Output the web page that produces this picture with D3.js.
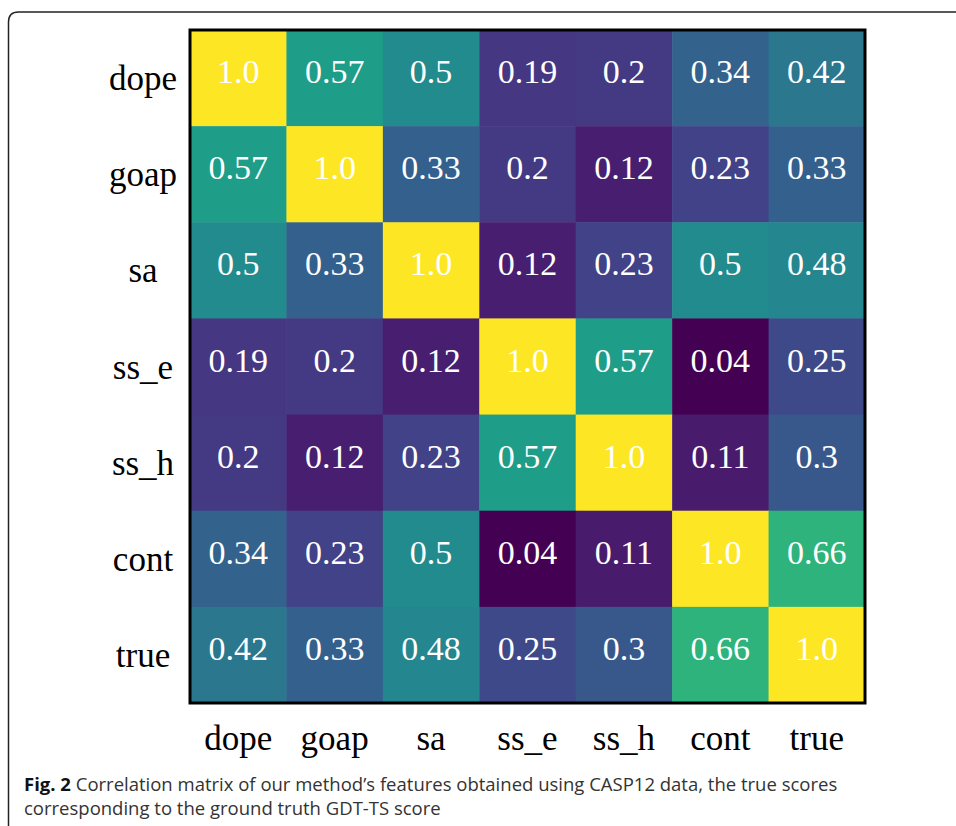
<!DOCTYPE html>
<html><head><meta charset="utf-8">
<script src="https://cdn.jsdelivr.net/npm/d3@7"></script>
<style>body{margin:0;background:#fff}svg{display:block}</style>
</head><body>
<svg id="c" width="956" height="826"></svg>
<script>
const features = ["dope","goap","sa","ss_e","ss_h","cont","true"];
const dopeRow = [1.0,0.57,0.5,0.19,0.2,0.34,0.42];
const goapRow = [0.57,1.0,0.33,0.2,0.12,0.23,0.33];
const saRow   = [0.5,0.33,1.0,0.12,0.23,0.5,0.48];
const sseRow  = [0.19,0.2,0.12,1.0,0.57,0.04,0.25];
const sshRow  = [0.2,0.12,0.23,0.57,1.0,0.11,0.3];
const contRow = [0.34,0.23,0.5,0.04,0.11,1.0,0.66];
const trueRow = [0.42,0.33,0.48,0.25,0.3,0.66,1.0];
const rows = [dopeRow,goapRow,saRow,sseRow,sshRow,contRow,trueRow];
const captionBold = "Fig. 2";
const captionLine1 = " Correlation matrix of our method’s features obtained using CASP12 data, the true scores";
const captionLine2 = "corresponding to the ground truth GDT-TS score";

const svg = d3.select("#c");
// frame
svg.append("path")
  .attr("d","M8.5,900 L8.5,22 Q8.5,12 18.5,12 L1000,12")
  .attr("fill","none").attr("stroke","#222").attr("stroke-width",1.5);

const x0=190,x1=865,y0=30,y1=703;
const x = d3.scaleBand().domain(features).range([x0,x1]);
const y = d3.scaleBand().domain(features).range([y0,y1]);
const allVals = rows.flat();
const color = d3.scaleSequential(d3.interpolateViridis).domain([d3.min(allVals), d3.max(allVals)]);

const cells = [];
rows.forEach((r,i)=>r.forEach((v,j)=>cells.push({row:features[i],col:features[j],v})));

svg.append("g").selectAll("rect").data(cells).join("rect")
  .attr("x",d=>x(d.col)).attr("y",d=>y(d.row))
  .attr("width",x.bandwidth()+0.5).attr("height",y.bandwidth()+0.5)
  .attr("fill",d=>color(d.v));

svg.append("g").selectAll("text").data(cells).join("text")
  .attr("x",d=>x(d.col)+x.bandwidth()/2)
  .attr("y",d=>y(d.row)+y.bandwidth()/2+5)
  .attr("text-anchor","middle")
  .attr("font-family","'Liberation Serif','Times New Roman',serif")
  .attr("font-size",34).attr("fill","#fff")
  .text(d=>d.v===1?"1.0":String(d.v));

svg.append("rect").attr("x",x0).attr("y",y0).attr("width",x1-x0).attr("height",y1-y0)
  .attr("fill","none").attr("stroke","#000").attr("stroke-width",3);

const serif = "'Liberation Serif','Times New Roman',serif";
svg.append("g").selectAll("text").data(features).join("text")
  .attr("x",143).attr("y",d=>y(d)+y.bandwidth()/2+12)
  .attr("text-anchor","middle").attr("font-family",serif).attr("font-size",35).attr("fill","#000")
  .text(d=>d);
svg.append("g").selectAll("text").data(features).join("text")
  .attr("x",d=>x(d)+x.bandwidth()/2).attr("y",750)
  .attr("text-anchor","middle").attr("font-family",serif).attr("font-size",35).attr("fill","#000")
  .text(d=>d);

const cap = svg.append("text").attr("x",24).attr("y",791)
  .attr("font-family","'Open Sans',sans-serif").attr("font-size",18.5).attr("fill","#333");
cap.append("tspan").attr("font-weight","bold").attr("fill","#111").text(captionBold);
cap.append("tspan").text(captionLine1);
svg.append("text").attr("x",24).attr("y",815)
  .attr("font-family","'Open Sans',sans-serif").attr("font-size",18.5).attr("fill","#333")
  .text(captionLine2);
</script>
</body></html>
